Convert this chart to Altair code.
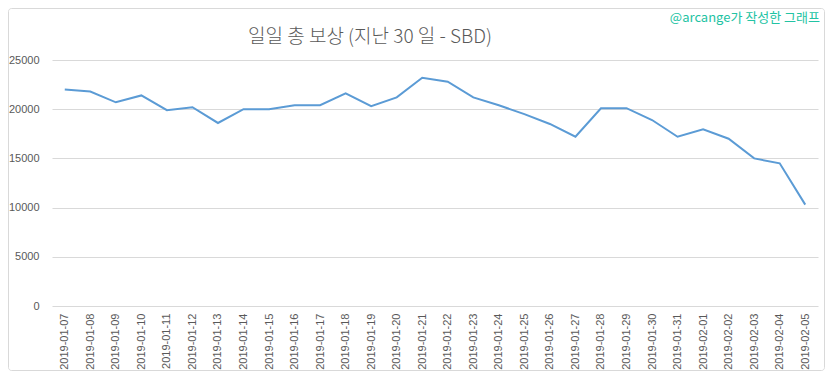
import altair as alt
import pandas as pd

dates = [
    "2019-01-07", "2019-01-08", "2019-01-09", "2019-01-10", "2019-01-11",
    "2019-01-12", "2019-01-13", "2019-01-14", "2019-01-15", "2019-01-16",
    "2019-01-17", "2019-01-18", "2019-01-19", "2019-01-20", "2019-01-21",
    "2019-01-22", "2019-01-23", "2019-01-24", "2019-01-25", "2019-01-26",
    "2019-01-27", "2019-01-28", "2019-01-29", "2019-01-30", "2019-01-31",
    "2019-02-01", "2019-02-02", "2019-02-03", "2019-02-04", "2019-02-05",
]
values = [
    22000, 21800, 20700, 21400, 19900,
    20200, 18600, 20000, 20000, 20400,
    20400, 21600, 20300, 21200, 23200,
    22800, 21200, 20400, 19500, 18500,
    17200, 20100, 20100, 18900, 17200,
    17950, 17000, 15000, 14500, 10300,
]
y_ticks = [0, 5000, 10000, 15000, 20000, 25000]
title_text = ["일일 총 보상 (지난 30 일 - SBD)"]
credit_text = ["@arcange가 작성한 그래프"]

df = pd.DataFrame({"date": dates, "value": values})

W, H = 766, 246
PAD = {"left": 44, "top": 52, "right": 7, "bottom": 65}
GRAY = "#595959"

line = alt.Chart(df).mark_line(color="#5b9bd5", strokeWidth=2).encode(
    x=alt.X(
        "date:O",
        sort=None,
        scale=alt.Scale(type="point", padding=0.5),
        axis=alt.Axis(
            title=None, labelAngle=270, labelFont="Liberation Sans",
            labelFontSize=11, labelColor=GRAY, domain=False, ticks=False,
            labelPadding=7, grid=False,
        ),
    ),
    y=alt.Y(
        "value:Q",
        scale=alt.Scale(domain=[0, 25000], nice=False),
        axis=alt.Axis(
            title=None, values=y_ticks, format="d", grid=True,
            gridColor="#d9d9d9", gridWidth=1, domain=False, ticks=False,
            labelPadding=13, labelFont="Liberation Sans", labelFontSize=11,
            labelColor=GRAY,
        ),
    ),
)

title = alt.Chart(pd.DataFrame({"t": title_text})).mark_text(
    font="Noto Sans CJK KR", fontSize=19, fontWeight=300, color=GRAY,
    align="center", baseline="middle",
).encode(x=alt.value(318), y=alt.value(-23), text="t:N")

credit = alt.Chart(pd.DataFrame({"t": credit_text})).mark_text(
    font="Noto Sans CJK KR", fontSize=13, color="#22c3a3", align="right",
    baseline="middle",
).encode(x=alt.value(768), y=alt.value(-42), text="t:N")

border = alt.Chart(pd.DataFrame({"a": [0]})).mark_rect(
    fill="transparent", stroke="#d9d9d9", strokeWidth=1, cornerRadius=3,
).encode(
    x=alt.value(-43.5), x2=alt.value(W + 6.5),
    y=alt.value(-51.5), y2=alt.value(H + 64.5),
)

chart = alt.layer(border, line, title, credit).properties(
    width=W, height=H, padding=PAD,
    autosize=alt.AutoSizeParams(type="none"),
    background="white",
).configure_view(strokeWidth=0)

chart.save("out.html", embed_options={"renderer": "svg", "actions": False})
